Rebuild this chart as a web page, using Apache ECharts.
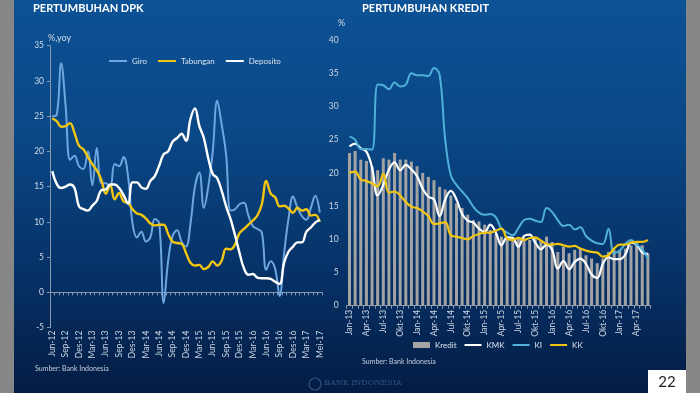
<!DOCTYPE html>
<html><head><meta charset="utf-8">
<script src="https://cdn.jsdelivr.net/npm/echarts@6/dist/echarts.min.js"></script>
<style>
html,body{margin:0;padding:0;width:700px;height:393px;overflow:hidden;background:#878787;}
#slide{position:absolute;left:14px;top:0;width:672px;height:393px;background:linear-gradient(to bottom,#0c5296 0%,#0a4785 35%,#063166 70%,#041c44 100%);}
#chart{position:absolute;left:0;top:0;width:700px;height:393px;}
</style></head><body>
<div id="slide"></div><div id="chart"></div>
<script>
// ---- DPK (left chart) ----
const dpkMonths = ["Jun-12","Jul-12","Agt-12","Sep-12","Okt-12","Nov-12","Des-12",
 "Jan-13","Feb-13","Mar-13","Apr-13","Mei-13","Jun-13","Jul-13","Agt-13","Sep-13","Okt-13","Nov-13","Des-13",
 "Jan-14","Feb-14","Mar-14","Apr-14","Mei-14","Jun-14","Jul-14","Agt-14","Sep-14","Okt-14","Nov-14","Des-14",
 "Jan-15","Feb-15","Mar-15","Apr-15","Mei-15","Jun-15","Jul-15","Agt-15","Sep-15","Okt-15","Nov-15","Des-15",
 "Jan-16","Feb-16","Mar-16","Apr-16","Mei-16","Jun-16","Jul-16","Agt-16","Sep-16","Okt-16","Nov-16","Des-16",
 "Jan-17","Feb-17","Mar-17","Apr-17","Mei-17","Jun-17"];
const dpkTickLabels = ["Jun-12","Sep-12","Des-12","Mar-13","Jun-13","Sep-13","Des-13","Mar-14","Jun-14","Sep-14",
 "Des-14","Mar-15","Jun-15","Sep-15","Des-15","Mar-16","Jun-16","Sep-16","Des-16","Mar-17","Mei-17"];
const giro = [25.0,25.2,32.5,26.5,18.8,19.4,17.9,17.5,20.0,15.2,20.5,15.5,15.5,15.0,18.2,17.9,19.2,16.5,9.8,7.8,
 8.6,7.2,7.8,10.4,9.8,-1.5,4.5,8.0,8.8,7.2,6.5,9.7,15.0,17.0,12.0,15.0,20.0,27.2,23.8,19.5,
 11.6,11.8,12.5,12.7,10.9,9.4,9.0,8.5,3.2,4.4,3.3,-0.5,5.5,10.5,13.6,12.0,10.8,10.3,12.0,13.7,11.3];
const tabungan = [24.7,24.3,23.5,23.6,24.0,22.6,20.8,20.3,19.2,18.2,17.3,16.0,14.0,15.2,13.2,14.1,12.9,12.7,11.8,11.2,
 11.0,10.5,9.8,9.5,9.6,9.6,8.3,7.2,7.0,6.9,5.6,4.2,3.8,3.9,3.3,3.6,4.4,3.8,4.5,6.2,
 6.1,6.8,8.4,9.0,9.6,10.2,10.9,12.5,15.8,14.0,13.5,12.2,12.3,11.9,11.3,12.0,11.6,11.8,10.9,11.0,10.0];
const deposito = [17.2,15.4,14.8,15.0,15.3,14.8,12.2,11.8,11.6,12.3,13.0,14.5,14.6,15.3,15.3,14.8,13.8,12.6,15.6,15.6,
 14.9,14.7,15.8,16.5,18.0,19.6,20.0,21.4,21.9,22.5,21.5,24.6,26.1,23.6,21.9,19.0,16.8,16.2,14.4,12.2,
 10.4,8.1,5.6,3.4,2.5,2.6,2.1,2.0,2.0,1.9,1.5,1.2,4.2,5.8,6.5,7.1,7.1,8.6,9.2,9.9,10.3];

// ---- Kredit (right chart) ----
const kreditMonths = ["Jan-13","Feb-13","Mar-13","Apr-13","Mei-13","Jun-13","Jul-13","Agt-13","Sep-13","Okt-13","Nov-13","Des-13",
 "Jan-14","Feb-14","Mar-14","Apr-14","Mei-14","Jun-14","Jul-14","Agt-14","Sep-14","Okt-14","Nov-14","Des-14",
 "Jan-15","Feb-15","Mar-15","Apr-15","Mei-15","Jun-15","Jul-15","Agt-15","Sep-15","Okt-15","Nov-15","Des-15",
 "Jan-16","Feb-16","Mar-16","Apr-16","Mei-16","Jun-16","Jul-16","Agt-16","Sep-16","Okt-16","Nov-16","Des-16",
 "Jan-17","Feb-17","Mar-17","Apr-17","Mei-17","Jun-17"];
const kredit = [23.0,23.3,22.0,21.8,21.0,20.4,22.2,22.0,23.0,22.0,22.0,21.7,21.0,20.0,19.4,18.9,17.9,17.5,16.6,15.4,
 14.7,13.7,12.9,12.7,12.2,11.4,10.8,10.4,10.4,10.4,10.2,10.2,9.9,10.2,9.9,10.4,9.6,8.1,8.9,7.9,
 8.4,8.6,7.6,7.1,6.4,7.1,8.1,8.4,8.4,8.6,9.1,9.6,9.1,7.9];
const kmk = [24.0,24.4,23.7,23.2,20.8,16.6,18.2,20.5,21.6,20.4,21.2,20.5,19.5,17.6,16.4,16.0,13.5,16.0,17.3,16.0,
 13.8,12.8,12.5,11.6,11.1,12.2,11.0,9.1,10.3,10.2,8.9,10.5,10.7,9.5,8.5,9.2,8.4,5.6,6.7,5.5,
 6.6,7.1,6.3,4.7,4.2,6.3,7.3,7.0,7.0,7.7,9.5,9.2,8.0,7.8];
const ki = [25.5,25.0,23.6,23.6,23.5,33.3,33.2,32.6,33.6,33.0,33.3,35.0,34.7,34.7,34.6,35.8,34.8,25.0,19.6,18.2,
 17.2,16.2,14.9,14.0,13.7,13.8,13.3,11.6,11.0,10.6,11.7,12.9,13.1,12.8,12.6,14.7,14.1,12.9,12.0,12.2,
 11.5,11.8,10.5,9.8,9.4,9.3,11.6,7.9,8.3,9.3,9.9,9.2,8.5,7.1];
const kk = [20.0,20.2,19.0,18.8,18.4,18.0,19.9,17.0,17.2,16.6,15.6,14.9,14.7,14.2,13.5,12.3,12.4,12.6,10.6,10.4,
 10.2,10.0,10.5,10.8,11.0,11.0,11.3,11.6,10.1,9.9,10.2,9.9,10.2,10.3,9.8,9.3,9.2,9.3,9.1,8.9,
 9.0,8.6,8.3,8.1,8.0,7.4,7.6,8.6,9.2,9.2,9.5,9.6,9.6,9.9];

const FONT = 'Lato';
const axisCol = '#8797b0';
const lblCol = '#cdd6e3';
const YEL = '#f2c511';
const noSym = {opacity:0};

const chart = echarts.init(document.getElementById('chart'), null, {renderer:'canvas'});
chart.setOption({
  backgroundColor: 'transparent',
  animation: false,
  textStyle: {fontFamily: FONT},
  title: [
    {text:'PERTUMBUHAN DPK', left:33, top:3, padding:0, textStyle:{color:'#fff', fontSize:11, fontWeight:'bold', fontFamily:FONT}},
    {text:'PERTUMBUHAN KREDIT', left:362, top:3, padding:0, textStyle:{color:'#fff', fontSize:11, fontWeight:'bold', fontFamily:FONT}}
  ],
  legend: [
    {left:108, top:57, padding:0, itemWidth:18, itemHeight:6, itemGap:10,
     data:[{name:'Giro', itemStyle:noSym},{name:'Tabungan', itemStyle:noSym},{name:'Deposito', itemStyle:noSym}],
     textStyle:{color:'#dbe3ee', fontSize:8, fontFamily:FONT}},
    {left:413, top:341, padding:0, itemWidth:17, itemHeight:6, itemGap:7,
     data:[{name:'Kredit', icon:'rect'},{name:'KMK', itemStyle:noSym},{name:'KI', itemStyle:noSym},{name:'KK', itemStyle:noSym}],
     textStyle:{color:'#dbe3ee', fontSize:8, fontFamily:FONT}}
  ],
  grid: [
    {left:50, top:45.7, width:272, height:281.9, containLabel:false},
    {left:346.7, top:40.1, width:304, height:265.6, containLabel:false}
  ],
  xAxis: [
    {gridIndex:0, type:'category', data:dpkMonths, boundaryGap:true,
     axisLine:{onZero:true, lineStyle:{color:axisCol, width:1}},
     axisTick:{show:true, interval:0, length:3, lineStyle:{color:axisCol}},
     axisLabel:{interval:2, rotate:90, color:lblCol, fontSize:8.5, margin:3, fontFamily:FONT,
       formatter:(v,i)=>dpkTickLabels[Math.round(i/3)] || ''}},
    {gridIndex:1, type:'category', data:kreditMonths, boundaryGap:true,
     axisLine:{onZero:true, lineStyle:{color:axisCol, width:1}},
     axisTick:{show:true, interval:0, length:3, lineStyle:{color:axisCol}},
     axisLabel:{interval:2, rotate:90, color:lblCol, fontSize:8.5, margin:4, fontFamily:FONT}}
  ],
  yAxis: [
    {gridIndex:0, type:'value', min:-5, max:35, interval:5,
     axisLine:{show:true, lineStyle:{color:axisCol, width:1}},
     axisTick:{show:true, length:3, lineStyle:{color:axisCol}},
     splitLine:{show:false},
     axisLabel:{color:lblCol, fontSize:8.5, margin:6, fontFamily:FONT}},
    {gridIndex:1, type:'value', min:0, max:40, interval:5,
     axisLine:{show:false}, axisTick:{show:false}, splitLine:{show:false},
     axisLabel:{color:lblCol, fontSize:8.5, margin:8, fontFamily:FONT}}
  ],
  series: [
    {name:'Giro', type:'line', xAxisIndex:0, yAxisIndex:0, data:giro, smooth:0.4, symbol:'none',
     lineStyle:{color:'#6ea7e0', width:2}, itemStyle:{color:'#6ea7e0'}},
    {name:'Tabungan', type:'line', xAxisIndex:0, yAxisIndex:0, data:tabungan, smooth:0.4, symbol:'none',
     lineStyle:{color:YEL, width:2.4}, itemStyle:{color:YEL}},
    {name:'Deposito', type:'line', xAxisIndex:0, yAxisIndex:0, data:deposito, smooth:0.4, symbol:'none',
     lineStyle:{color:'#ffffff', width:2.4}, itemStyle:{color:'#ffffff'}},
    {name:'Kredit', type:'bar', xAxisIndex:1, yAxisIndex:1, data:kredit, barWidth:3,
     itemStyle:{color:'#a3a3a3'}},
    {name:'KMK', type:'line', xAxisIndex:1, yAxisIndex:1, data:kmk, smooth:0.4, symbol:'none',
     lineStyle:{color:'#ffffff', width:2.2}, itemStyle:{color:'#ffffff'}},
    {name:'KI', type:'line', xAxisIndex:1, yAxisIndex:1, data:ki, smooth:0.4, symbol:'none',
     lineStyle:{color:'#4fb0d8', width:2}, itemStyle:{color:'#4fb0d8'}},
    {name:'KK', type:'line', xAxisIndex:1, yAxisIndex:1, data:kk, smooth:0.4, symbol:'none',
     lineStyle:{color:YEL, width:2.2}, itemStyle:{color:YEL}}
  ],
  graphic: [
    {type:'text', left:48, top:34, style:{text:'%,yoy', fill:'#d0d8e4', font:'9px Lato'}},
    {type:'text', left:338, top:19, style:{text:'%', fill:'#d0d8e4', font:'9px Lato'}},
    {type:'text', left:35, top:365, style:{text:'Sumber: Bank Indonesia', fill:'#c5cfdd', font:'7px Lato'}},
    {type:'text', left:362, top:358, style:{text:'Sumber: Bank Indonesia', fill:'#c5cfdd', font:'7px Lato'}},
    {type:'circle', shape:{cx:315, cy:384, r:6}, style:{fill:'none', stroke:'#2f5283', lineWidth:1.2}},
    {type:'text', left:324, top:379, style:{text:'BANK INDONESIA', fill:'#2f5283', font:'8px "DejaVu Serif"'}},
    {type:'rect', shape:{x:648, y:370, width:38, height:23}, style:{fill:'#ffffff'}},
    {type:'text', x:667, y:382, style:{text:'22', fill:'#222', font:'15px Lato', textAlign:'center', textVerticalAlign:'middle'}}
  ]
});
</script></body></html>
